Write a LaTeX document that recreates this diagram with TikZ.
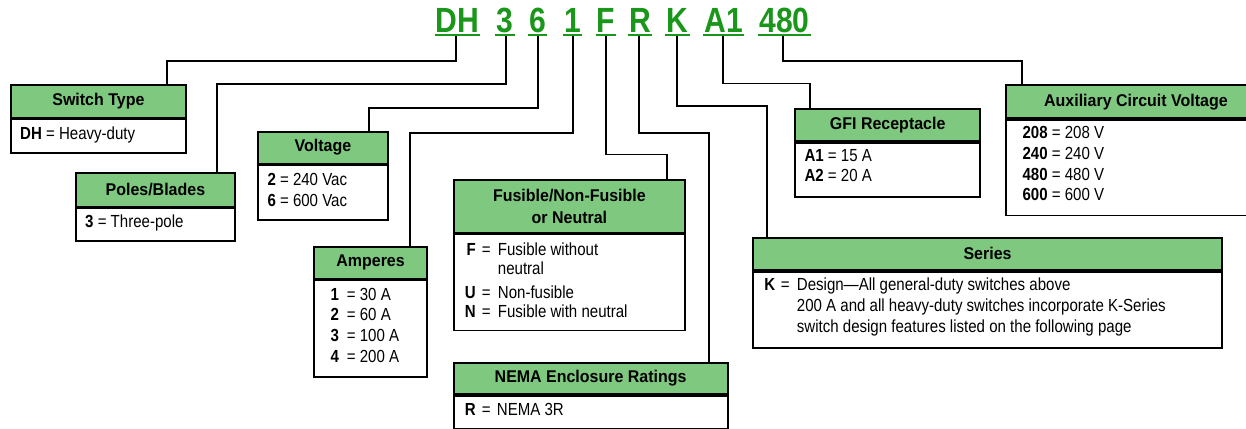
\documentclass[tikz,border=0pt]{standalone}
\usepackage{fontspec}
\setmainfont{Liberation Sans}[FakeStretch=0.86]
\newfontfamily\hfont{Liberation Sans}[FakeStretch=0.94]
\usetikzlibrary{calc}
\definecolor{hdrgreen}{RGB}{127,200,127}
\definecolor{codegreen}{RGB}{26,150,26}
\tikzset{
  hdr/.style={draw, line width=1.8pt, fill=hdrgreen, inner sep=0pt, anchor=north west, align=center,
    font=\hfont\bfseries\fontsize{17}{21.7}\selectfont},
  bodyb/.style={draw, line width=1.8pt, fill=white, inner sep=0pt, anchor=north west},
  txt/.style={inner sep=0pt, anchor=base west, font=\fontsize{17.5}{20.7}\selectfont},
  keyr/.style={inner sep=0pt, anchor=base east, font=\bfseries\fontsize{17.5}{20.7}\selectfont},
  keyc/.style={inner sep=0pt, anchor=base, font=\bfseries\fontsize{17.5}{20.7}\selectfont},
  code/.style={inner sep=0pt, anchor=base, text=codegreen, font=\bfseries\fontsize{35}{40}\selectfont},
  uline/.style={draw=codegreen, line width=1.8pt},
  conn/.style={line width=1.8pt}
}
\newcommand\mybox[7]{%
  \node[hdr, minimum width=#4, minimum height=#5] (#1h) at (#2,#3) {#7};
  \node[bodyb, minimum width=#4, minimum height=#6] (#1b) at (#1h.south west) {};
}
\begin{document}
\begin{tikzpicture}[x=1pt,y=-1pt]
\useasboundingbox (0,0) rectangle (1246,428);
\clip (0,0) rectangle (1246,428);

% code letters
\node[code] (cDH) at (457.5,33) {DH};
\node[code] (c3) at (505,33) {3};
\node[code] (c6) at (537.5,33) {6};
\node[code] (c1) at (572.5,33) {1};
\node[code] (cF) at (606,33) {F};
\node[code] (cR) at (640,33) {R};
\node[code] (cK) at (677.5,33) {K};
\node[code] (cA) at (723.5,33) {A1};
\node[code] (cV) at (784.5,33) {480};
\foreach \c in {cDH,c3,c6,c1,cF,cR,cK,cA,cV}{
  \draw[uline] ($(\c.base west)+(-1,2)$) -- ($(\c.base east)+(1,2)$);
}

% boxes
\mybox{sw}{10}{84}{175}{32.7}{33.3}{Switch Type}
\mybox{pol}{75}{172}{159}{33.7}{32.3}{Poles/Blades}
\mybox{vol}{257.3}{130.7}{129.4}{32}{54.6}{Voltage}
\mybox{amp}{313.3}{246}{112.7}{31.7}{96.3}{Amperes}
\mybox{fus}{452.7}{179}{231.6}{52.7}{96}{Fusible/Non-Fusible\\or Neutral}
\mybox{nem}{452.7}{361.7}{274}{31.6}{33.1}{NEMA Enclosure Ratings}
\mybox{gfi}{794.3}{108.3}{185}{31.7}{54}{GFI Receptacle}
\mybox{ser}{752.3}{236.7}{468.7}{32.3}{76}{Series}
\mybox{aux}{1005}{84.3}{260}{33}{95.4}{Auxiliary Circuit Voltage}

% connectors
\draw[conn] ($(cDH.base)+(-1.8,3)$) -- ++(0,25.3) -| ($(swh.north west)+(157,0)$);
\draw[conn] ($(c3.base)+(1,3)$) -- ++(0,48) -| ($(polh.north west)+(141.7,0)$);
\draw[conn] ($(c6.base)+(0.8,3)$) -- ++(0,71.7) -| ($(volh.north west)+(112,0)$);
\draw[conn] ($(c1.base)+(0.2,3)$) -- ++(0,96.7) -| ($(amph.north west)+(96.7,0)$);
\draw[conn] ($(cF.base)+(0.3,3)$) -- ++(0,118.5) -| ($(fush.north west)+(214,0)$);
\draw[conn] ($(cR.base)+(-0.7,3)$) -- ++(0,97.3) -| ($(nemh.north west)+(256.6,0)$);
\draw[conn] ($(cK.base)+(-0.2,3)$) -- ++(0,70) -| ($(serh.north west)+(15,0)$);
\draw[conn] ($(cA.base)+(-0.2,3)$) -- ++(0,47.5) -| ($(gfih.north west)+(15.7,0)$);
\draw[conn] ($(cV.base)+(-1.8,3)$) -- ++(0,24.7) -| ($(auxh.north west)+(17.3,0)$);

% body texts
\node[txt] (sw1) at (20,139) {\textbf{DH} = Heavy-duty};
\node[txt] (pol1) at (85,227.7) {\textbf{3} = Three-pole};
\node[txt] (vol1) at (267.3,185) {\textbf{2} = 240 Vac};
\node[txt] (vol2) at (267.3,206) {\textbf{6} = 600 Vac};

\node[keyc] (ak1) at (334.7,300) {1};
\node[keyc] (ak2) at (334.7,320.7) {2};
\node[keyc] (ak3) at (334.7,341.3) {3};
\node[keyc] (ak4) at (334.7,362) {4};
\node[txt] (av1) at (346.7,300) {= 30 A};
\node[txt] (av2) at (346.7,320.7) {= 60 A};
\node[txt] (av3) at (346.7,341.3) {= 100 A};
\node[txt] (av4) at (346.7,362) {= 200 A};

\node[keyr] (fk1) at (476,255) {F};
\node[keyr] (fk2) at (476,298.3) {U};
\node[keyr] (fk3) at (476,317.7) {N};
\node[txt] (fe1) at (481.7,255) {=};
\node[txt] (fe2) at (481.7,298.3) {=};
\node[txt] (fe3) at (481.7,317.7) {=};
\node[txt] (fv1) at (497.7,255) {Fusible without};
\node[txt] (fv1b) at (497.7,274) {neutral};
\node[txt] (fv2) at (497.7,298.3) {Non-fusible};
\node[txt] (fv3) at (497.7,317.7) {Fusible with neutral};

\node[keyr] (nk1) at (476,415) {R};
\node[txt] (ne1) at (481.7,415) {=};
\node[txt] (nv1) at (496.7,415) {NEMA 3R};

\node[txt] (g1) at (804.3,161.7) {\textbf{A1} = 15 A};
\node[txt] (g2) at (804.3,181.7) {\textbf{A2} = 20 A};

\node[keyr] (sk1) at (775.5,290.7) {K};
\node[txt] (se1) at (780.7,290.7) {=};
\node[txt] (sv1) at (796.7,290.7) {Design—All general-duty switches above};
\node[txt] (sv2) at (796.7,311.7) {200 A and all heavy-duty switches incorporate K-Series};
\node[txt] (sv3) at (796.7,332.3) {switch design features listed on the following page};

\node[txt] (x1) at (1022.3,138.3) {\textbf{208} = 208 V};
\node[txt] (x2) at (1022.3,159) {\textbf{240} = 240 V};
\node[txt] (x3) at (1022.3,180) {\textbf{480} = 480 V};
\node[txt] (x4) at (1022.3,200.7) {\textbf{600} = 600 V};
\end{tikzpicture}
\end{document}
